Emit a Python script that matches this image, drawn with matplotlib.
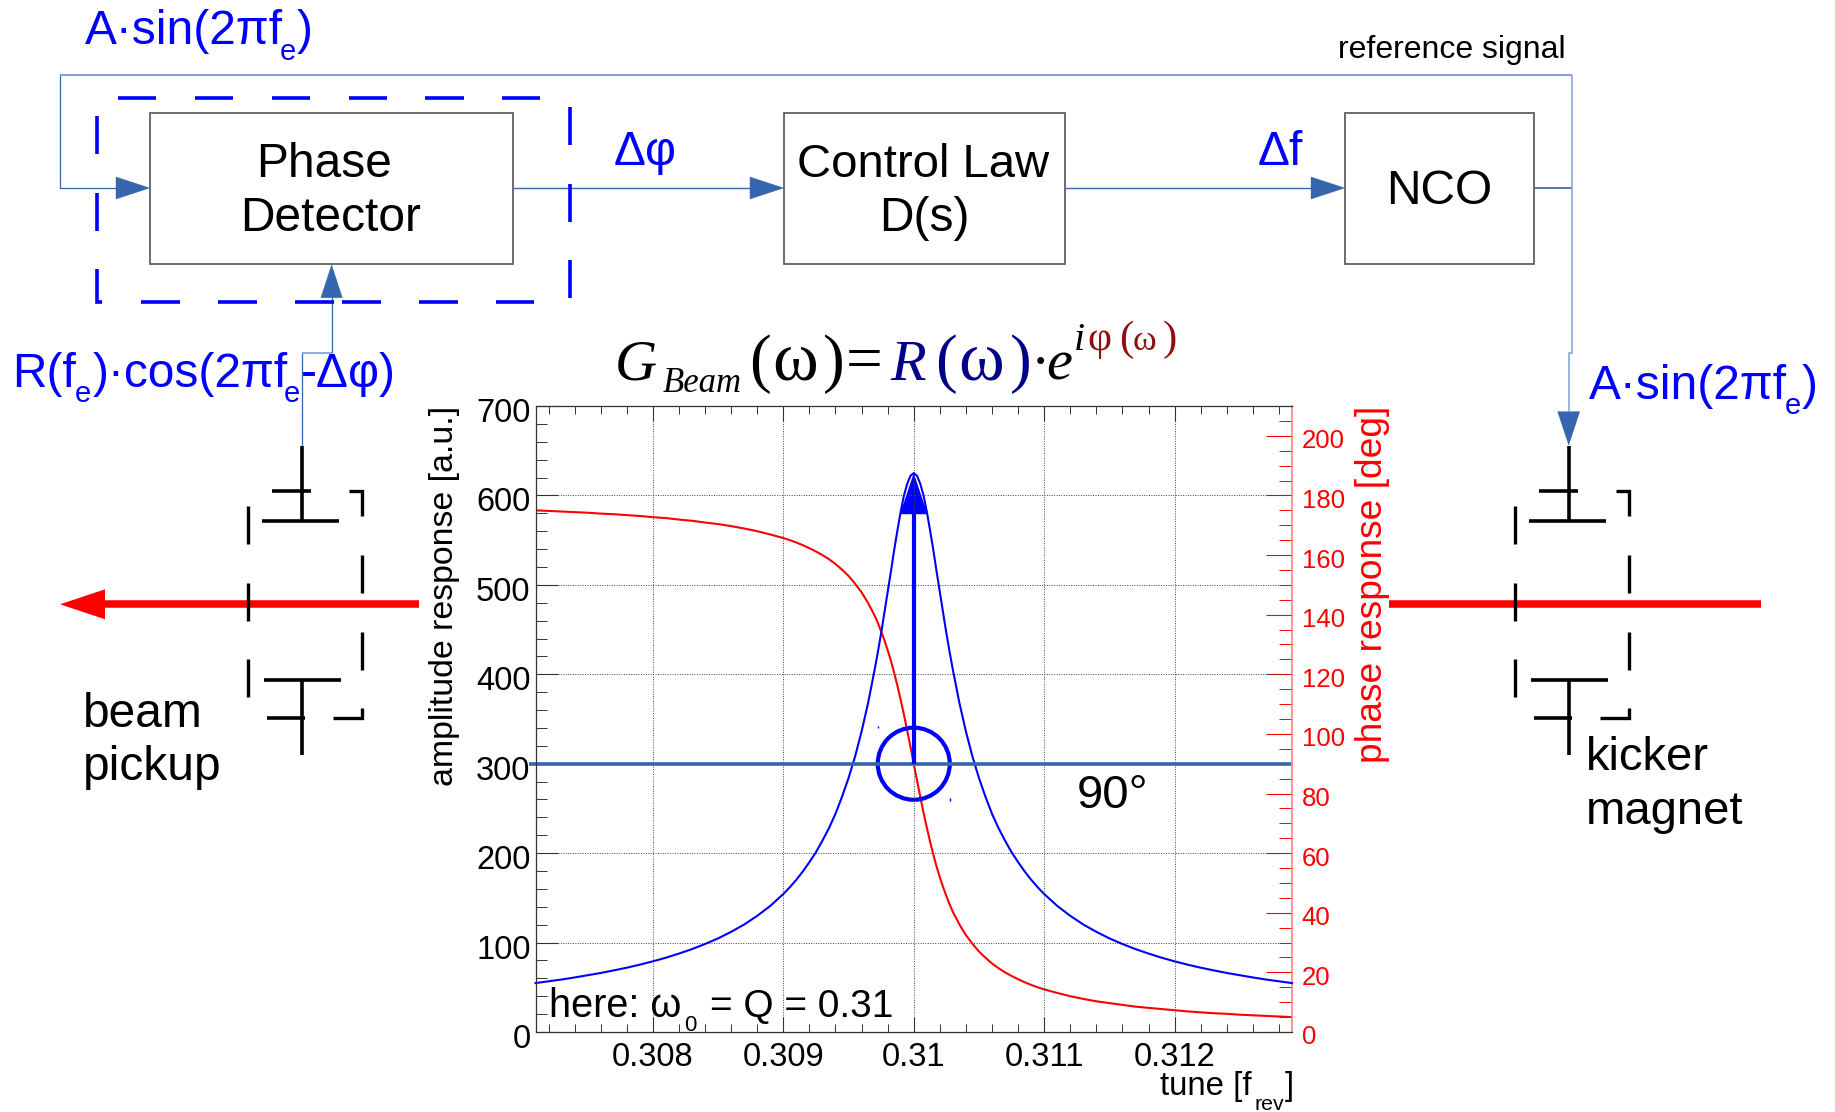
#!/usr/bin/env python3
"""
Phase locked loop tune tracking sketch with the beam transfer function.
"""

import matplotlib
matplotlib.use('Agg')  # Non-interactive backend
import matplotlib.pyplot as plt
from matplotlib.patches import Ellipse, Polygon, Rectangle
from matplotlib.transforms import ScaledTranslation

plt.rcParams['font.family'] = ['Liberation Sans', 'DejaVu Sans']

# Curves
tune = [0.3071, 0.3072, 0.3073, 0.3074, 0.3075, 0.3076, 0.3077, 0.3078, 0.3079, 0.3080,
        0.3081, 0.3082, 0.3083, 0.3084, 0.3085, 0.3086, 0.3087, 0.3088, 0.3089, 0.3090,
        0.30905, 0.3091, 0.30915, 0.3092, 0.30925, 0.3093, 0.30935, 0.3094, 0.30945,
        0.3095, 0.30955, 0.3096, 0.30965, 0.3097, 0.309725, 0.30975, 0.309775, 0.3098,
        0.309825, 0.30985, 0.309875, 0.3099, 0.309925, 0.30995, 0.309975,
        0.3100,
        0.310025, 0.31005, 0.310075, 0.3101, 0.310125, 0.31015, 0.310175, 0.3102,
        0.310225, 0.31025, 0.310275, 0.3103, 0.31035, 0.3104, 0.31045, 0.3105, 0.31055,
        0.3106, 0.31065, 0.3107, 0.31075, 0.3108, 0.31085, 0.3109, 0.31095,
        0.3110, 0.3111, 0.3112, 0.3113, 0.3114, 0.3115, 0.3116, 0.3117, 0.3118, 0.3119,
        0.3120, 0.3121, 0.3122, 0.3123, 0.3124, 0.3125, 0.3126, 0.3127, 0.3128, 0.3129]
amplitude = [54.7, 56.7, 58.7, 61, 63.5, 66, 68.9, 71.9, 75.3, 79,
             83.1, 87.7, 92.7, 98.4, 104.7, 112, 120.2, 129.9, 141, 154.3,
             161.9, 170.3, 179.6, 190, 201, 214, 228, 244, 263,
             284, 308, 336, 368, 405, 425, 446, 469, 492,
             515, 539, 561, 582, 600, 613, 622,
             625,
             622, 613, 600, 582, 561, 539, 515, 492,
             469, 446, 425, 405, 368, 336, 308, 284, 263,
             244, 228, 214, 201, 190, 179.6, 170.3, 161.9,
             154.3, 141, 129.9, 120.2, 112, 104.7, 98.4, 92.7, 87.7, 83.1,
             79, 75.3, 71.9, 68.9, 66, 63.5, 61, 58.7, 56.7, 54.7]
phase = [175.0, 174.8, 174.6, 174.4, 174.2, 173.9, 173.7, 173.4, 173.1, 172.7,
         172.4, 171.9, 171.5, 170.9, 170.4, 169.7, 168.9, 168.0, 166.9, 165.7,
         165.0, 164.2, 163.3, 162.3, 161.2, 160.0, 158.6, 157.0, 155.1,
         153.0, 150.4, 147.5, 143.9, 139.7, 137.2, 134.4, 131.4, 128.1,
         124.5, 120.5, 116.1, 111.4, 106.4, 101.1, 95.6,
         90.0,
         84.4, 78.9, 73.6, 68.6, 63.9, 59.5, 55.5, 51.9,
         48.6, 45.6, 42.8, 40.3, 36.1, 32.5, 29.6, 27.0, 24.9,
         23.0, 21.4, 20.0, 18.8, 17.7, 16.7, 15.8, 15.0,
         14.3, 13.1, 12.0, 11.1, 10.3, 9.7, 9.1, 8.5, 8.1, 7.7,
         7.3, 6.9, 6.6, 6.3, 6.1, 5.8, 5.6, 5.4, 5.2, 5.0]
x_ticks = [0.308, 0.309, 0.310, 0.311, 0.312]
x_labels = ['0.308', '0.309', '0.31', '0.311', '0.312']
left_ticks = [0, 100, 200, 300, 400, 500, 600, 700]
right_ticks = [0, 20, 40, 60, 80, 100, 120, 140, 160, 180, 200]

# Marker on the resonance
q_tune = 0.310
q_amp = 300
head_base = 579
head_tip = 625

W, H = 1835, 1112
BLUE = '#0000ff'
LINE = '#3465ad'
PALE = '#7f9fd0'
RED = '#ff0000'
NAVY = '#000088'
MAROON = '#8f1010'

fig = plt.figure(figsize=(W / 100, H / 100), dpi=100, facecolor='white')

# Chart
ax = fig.add_axes([535.5 / W, (H - 1032) / H, 756.5 / W, 626 / H])
ax2 = ax.twinx()
ax.set_zorder(ax2.get_zorder() + 1)
ax.patch.set_visible(False)

ax.set_xlim(0.3071, 0.3129)
ax.set_ylim(0, 700)
ax2.set_ylim(0, 210)

ax.set_xticks(x_ticks)
ax.set_xticklabels(x_labels)
ax.set_xticks([0.3072 + 0.0002 * i for i in range(29)], minor=True)
ax.set_yticks(left_ticks)
ax.set_yticks([20 * i for i in range(36)], minor=True)
ax2.set_yticks(right_ticks)
ax2.set_yticks([5 * i for i in range(43)], minor=True)

ax.tick_params(axis='x', which='major', direction='in', top=True, length=11, width=0.8,
               color='#333333', labelsize=23.5, pad=7)
ax.tick_params(axis='x', which='minor', direction='in', top=True, length=5.5, width=0.7,
               color='#333333')
ax.tick_params(axis='y', which='major', direction='in', length=16, width=0.8,
               color='#333333', labelsize=23.5, pad=3.5)
ax.tick_params(axis='y', which='minor', direction='in', length=8, width=0.7,
               color='#333333')
ax2.tick_params(axis='y', which='major', direction='in', length=18.5, width=0.8,
                color=RED, labelcolor=RED, labelsize=18.5, pad=7)
ax2.tick_params(axis='y', which='minor', direction='in', length=9.5, width=0.7, color=RED)

ax.grid(True, which='major', color='#444444', linewidth=0.7, linestyle=(0, (1, 1.5)))

for spine in ax.spines.values():
    spine.set_linewidth(0.9)
    spine.set_color('#333333')
ax.spines['right'].set_visible(False)
ax2.spines['right'].set_color('#ff8080')
ax2.spines['right'].set_linewidth(1.2)
ax2.spines['left'].set_visible(False)
ax2.spines['top'].set_visible(False)
ax2.spines['bottom'].set_visible(False)

# Tick labels sit a little below their ticks
for label in ax.get_yticklabels():
    label.set_transform(label.get_transform() + ScaledTranslation(0, -0.04, fig.dpi_scale_trans))
for label in ax2.get_yticklabels():
    label.set_transform(label.get_transform() + ScaledTranslation(0, -0.03, fig.dpi_scale_trans))

ax2.plot(tune, phase, color=RED, linewidth=1.5)
ax.plot(tune, amplitude, color=BLUE, linewidth=1.5, clip_on=False)

ax.plot([0.30705, 0.31289], [q_amp, q_amp], color=LINE, linewidth=2.6, clip_on=False,
        solid_capstyle='butt')
ax.plot([q_tune, q_tune], [q_amp, head_base], color=BLUE, linewidth=3, solid_capstyle='butt')
ax.add_patch(Polygon([(q_tune - 0.000106, head_base), (q_tune + 0.000106, head_base),
                      (q_tune, head_tip)], closed=True, color=BLUE, linewidth=0))
ax.add_patch(Ellipse((q_tune, q_amp), 2 * 0.000276, 2 * 40.3, fill=False, edgecolor=BLUE,
                     linewidth=3))

# Overlay in picture pixels for the block diagram
ov = fig.add_axes([0, 0, 1, 1], zorder=10)
ov.set_xlim(0, W)
ov.set_ylim(H, 0)
ov.axis('off')


def seg(xs, ys, color='black', lw=2.6):
    ov.plot(xs, ys, color=color, linewidth=lw, solid_capstyle='butt', solid_joinstyle='miter')


def put(x, y, s, size, color='black', **kw):
    ov.text(x, y, s, fontsize=size, color=color, ha=kw.pop('ha', 'left'),
            va=kw.pop('va', 'baseline'), **kw)


def head(points):
    ov.add_patch(Polygon(points, closed=True, facecolor=LINE, edgecolor=LINE, linewidth=0.3))


def box(x0, x1):
    ov.add_patch(Rectangle((x0, 112.7), x1 - x0, 151.3, fill=False, edgecolor='#606060',
                           linewidth=1.3))


box(149.5, 512.8)
box(783.5, 1065.3)
box(1344.6, 1533.7)

# Signal path
seg([59.7, 1572], [75, 75], PALE, 1.4)
seg([59.7, 59.7, 118], [75, 188, 188], LINE, 0.9)
seg([512.8, 752], [188, 188], LINE, 1.0)
seg([1065.3, 1313], [188, 188], LINE, 1.0)
seg([1533.7, 1572], [188, 188], LINE, 1.2)
seg([1572, 1572, 1568.7, 1568.7], [75, 353, 353, 412], PALE, 1.1)
seg([331.6, 331.6], [296, 353.3], LINE, 0.9)
seg([331.6, 301.7], [353.3, 353.3], PALE, 1.2)
seg([301.7, 301.7], [353.3, 445.7], LINE, 0.9)
head([(116, 177), (149.5, 188), (116, 199)])
head([(750, 177), (783.5, 188), (750, 199)])
head([(1311, 177), (1344.6, 188), (1311, 199)])
head([(320.9, 297.7), (342.3, 297.7), (331.6, 265)])
head([(1557.7, 411.7), (1579.7, 411.7), (1568.7, 445)])

# Dashed outline round the phase detector
for a, b in [(118, 156), (195, 233), (271.5, 310), (348.5, 387), (425, 463.5), (502, 540)]:
    seg([a, b], [97.7, 97.7], BLUE)
for a, b in [(141, 180), (218, 257), (295, 334), (342, 381), (419, 458), (496, 534)]:
    seg([a, b], [301.7, 301.7], BLUE)
seg([97, 97, 102], [269, 301.7, 301.7], BLUE)
for a, b in [(116, 154), (193, 231)]:
    seg([97, 97], [a, b], BLUE)
for a, b in [(107, 145), (184, 222), (260, 298)]:
    seg([570, 570], [a, b], BLUE)

# Beam line
seg([419, 105], [604.3, 604.3], RED, 5.4)
ov.add_patch(Polygon([(105, 589.3), (105, 619.3), (60, 604.3)], closed=True, color=RED, linewidth=0))
seg([1389, 1760.7], [604.3, 604.3], RED, 5.4)


def electrode(dx):
    seg([301.7 + dx, 301.7 + dx], [445.7, 521], lw=2.6)
    seg([272.3 + dx, 310.7 + dx], [491, 491], lw=2.6)
    seg([262 + dx, 339 + dx], [521, 521], lw=2.6)
    seg([263.7 + dx, 340.7 + dx], [679.7, 679.7], lw=2.6)
    seg([267 + dx, 305 + dx], [717.7, 717.7], lw=2.6)
    seg([301.7 + dx, 301.7 + dx], [679.7, 755], lw=2.6)
    for a, b in [(506, 544), (582.7, 621), (659.3, 697.3)]:
        seg([248.3 + dx, 248.3 + dx], [a, b], lw=2.4)
    seg([349.3 + dx, 362 + dx, 362 + dx], [491, 491, 516], lw=2.4)
    for a, b in [(555, 593.3), (631.7, 669.7)]:
        seg([362 + dx, 362 + dx], [a, b], lw=2.4)
    seg([333 + dx, 362 + dx, 362 + dx], [717.7, 717.7, 708.3], lw=2.4)


electrode(0)
electrode(1267)

# Small specks next to the circle
seg([877.7, 877.7], [725.5, 728], BLUE, 1)
seg([950.3, 950.3], [797.5, 800.5], BLUE, 1)

# Blue signal labels, the low subscripts are set by hand
SIG = 34.5
SUB = 21
put(85, 44, 'A·sin(2πf', SIG, BLUE)
put(280, 60, 'e', SUB, BLUE)
put(296.5, 44, ')', SIG, BLUE)
put(614, 165, 'Δφ', SIG, BLUE)
put(1258, 165, 'Δf', SIG, BLUE)
put(12, 386.7, 'R(f', SIG, BLUE)
put(75, 401.7, 'e', SUB, BLUE)
put(93, 386.7, ')·cos(2πf', SIG, BLUE)
put(284, 401.7, 'e', SUB, BLUE)
put(300.5, 386.7, '-Δφ)', SIG, BLUE)
put(1589, 399, 'A·sin(2πf', SIG, BLUE)
put(1785, 414, 'e', SUB, BLUE)
put(1802, 399, ')', SIG, BLUE)

# Black labels
put(1338, 58, 'reference signal', 23)
put(256.5, 177, 'Phase', 34.5)
put(240, 231, 'Detector', 34.5)
put(797, 177, 'Control Law', 34)
put(879, 231, 'D(s)', 34.5)
put(1386, 204, 'NCO', 34.5)
put(83, 726.7, 'beam', 34.5)
put(83, 780, 'pickup', 34.5)
put(1586, 770, 'kicker', 34)
put(1586, 824, 'magnet', 34)
put(1077, 808, '90°', 34)
put(549.3, 1017, 'here: ω', 28.5)
put(684, 1030.7, '0', 16)
put(710, 1017, '= Q = 0.31', 28)
put(1160, 1095, 'tune [f', 23.8)
put(1254, 1110, 'rev', 15.3)
put(1285, 1095, ']', 23.8)

# Axis titles
put(453, 406, 'amplitude response [a.u.]', 24.4, rotation=90, ha='right', rotation_mode='anchor')
put(1381.7, 406, 'phase response [deg]', 26.7, RED, rotation=90, ha='right', rotation_mode='anchor')


# Equation over the chart, placed piece by piece
def eq(x, y, s, size, color='black', style='normal'):
    ov.text(x, y, s, fontsize=size, color=color, style=style, family='Liberation Serif',
            ha='left', va='baseline')


eq(615, 380, 'G', 42, style='italic')
eq(663, 391.7, 'Beam', 25, style='italic')
eq(749, 380, '(', 47)
eq(772, 380, 'ω', 50)
eq(823, 380, ')', 47)
eq(846, 380, '=', 47)
eq(890, 380, 'R', 42, NAVY, 'italic')
eq(935, 380, '(', 47, NAVY)
eq(958, 380, 'ω', 50, NAVY)
eq(1010, 380, ')', 47, NAVY)
eq(1031, 380, '·', 42)
eq(1046, 380, 'e', 42, style='italic')
eq(1074, 350, 'i', 29, style='italic')
eq(1087, 350, 'φ', 30, MAROON)
eq(1119, 350, '(', 31, MAROON)
eq(1133, 350, 'ω', 26, MAROON)
eq(1163, 350, ')', 31, MAROON)

fig.savefig('out.png', dpi=100, facecolor='white')
plt.close()
